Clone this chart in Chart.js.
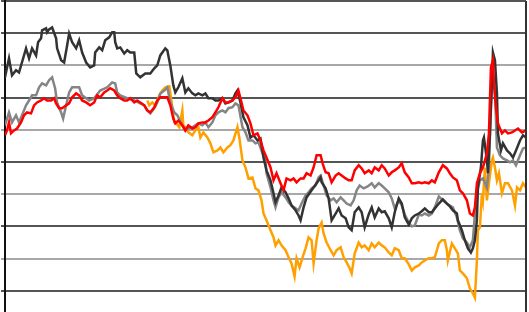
<!DOCTYPE html>
<html>
<head>
<meta charset="utf-8">
<script src="https://cdn.jsdelivr.net/npm/chart.js@4/dist/chart.umd.min.js"></script>
<style>
body{margin:0;background:#fff;overflow:hidden;}
#wrap{position:absolute;left:0;top:0;width:529px;height:324px;}
</style>
</head>
<body>
<div id="wrap"><canvas id="c"></canvas></div>
<script>
// y ticks (no labels shown in the picture)
const yMin=0,yMax=100,yStep=10;

const darkDay=[0,4,7,11,14,21,24,27,31,33,36,37,41,42,44,47,51,52,56,59,62,64,67,71,74,77,81,85,89,90,94,97,100,104,107,109,110,112,115,119,122,125,129,131,135,140,145,149,152,155,160,162,165,168,170,173,177,180,183,187,190,193,197,200,203,207,210,213,217,220,223,227,230,232,235,238,242,245,248,252,255,258,261,265,268,270,273,276,280,283,286,290,293,295,298,301,306,311,315,316,320,323,326,330,333,336,340,343,346,349,353,356,359,363,366,369,373,376,379,383,386,389,393,396,399,403,406,409,413,416,419,423,426,429,433,437,441,444,447,451,452,456,459,462,465,467,469,471,472,475,477,478,481,482,484,486,487,489,491,492,495,497,501,504,507,510,514,517,520];
const darkVal=[76.3,82.2,76.9,78.5,77.8,85.3,82.2,85.3,83.1,87.2,88.4,90.9,91.5,90.3,91.2,91.8,88.4,85.3,81.6,80.9,86.2,89.9,87.2,85.3,87.8,84.0,80.9,79.4,80.0,84.0,85.6,84.7,87.8,88.7,90.3,90.3,87.2,85.3,85.6,83.7,84.7,84.0,84.0,77.5,76.3,77.5,77.5,79.1,80.0,83.1,85.3,84.7,80.0,73.8,71.6,73.2,76.0,71.6,72.9,71.3,70.7,71.3,70.7,71.3,69.8,69.8,69.1,69.1,69.8,68.2,68.5,69.1,71.3,72.2,68.5,63.9,61.4,57.6,58.3,56.7,57.3,51.4,47.4,44.3,40.3,37.5,39.6,42.1,40.6,38.7,36.5,35.0,33.4,31.9,35.9,39.0,41.2,43.4,45.2,43.7,41.8,38.7,31.9,34.0,35.6,33.4,32.5,29.7,28.8,34.4,35.9,34.4,29.7,33.7,35.9,32.8,35.6,34.4,34.7,32.5,29.7,34.4,38.7,37.1,32.8,30.6,32.5,33.4,34.0,34.7,35.6,34.4,34.4,35.6,37.1,38.4,37.1,36.2,35.0,34.0,31.9,28.8,25.7,23.2,21.9,23.2,25.7,31.9,42.1,48.3,56.7,57.6,50.5,46.5,58.9,75.4,84.0,81.6,71.3,58.9,53.6,55.8,53.6,52.7,51.4,53.6,56.7,58.3,57.6];

const grayDay=[0,4,7,11,14,17,21,24,27,31,34,37,41,44,47,50,52,56,58,61,64,67,71,74,77,81,84,89,95,102,107,110,112,115,122,129,135,139,142,145,149,152,155,159,162,165,169,172,177,180,183,187,190,193,197,200,203,207,210,213,217,220,223,227,230,233,237,240,243,247,250,253,257,260,261,265,268,270,273,276,280,283,286,290,293,296,300,303,306,310,313,315,318,321,325,328,331,335,338,341,345,348,351,354,358,362,366,369,373,376,379,383,386,389,393,396,399,403,406,409,413,416,419,423,426,429,433,437,441,444,447,451,454,457,461,464,467,469,471,474,477,481,483,485,487,489,491,494,497,501,504,507,510,514,517,520];
const grayVal=[61.4,65.4,62.3,64.5,62.3,64.5,67.6,69.1,70.7,70.7,73.2,74.4,73.8,75.4,76.3,72.9,68.5,65.4,63.5,67.6,71.6,73.2,73.2,73.2,70.7,69.8,69.1,69.8,72.2,73.2,74.7,74.4,71.6,70.7,69.8,69.1,68.2,67.6,66.0,65.1,66.7,68.5,71.3,72.2,73.2,68.5,65.4,64.5,61.4,59.8,60.4,60.8,61.4,62.0,61.4,62.3,60.8,62.3,64.5,65.4,66.0,65.4,66.7,67.0,68.2,67.6,60.8,59.2,56.7,56.7,55.8,56.1,52.7,50.5,46.5,42.1,38.1,35.9,39.0,40.6,39.0,37.5,36.5,35.6,35.0,37.1,39.6,40.6,41.8,42.7,45.2,45.8,42.7,39.6,38.1,38.7,37.5,39.0,38.1,37.1,36.5,38.1,41.2,42.7,41.8,42.4,43.4,42.1,43.4,42.7,41.8,40.6,38.7,35.6,38.1,36.5,33.7,31.2,30.0,30.3,33.7,33.4,34.0,33.4,34.0,35.9,39.3,38.1,37.1,36.5,35.9,32.8,28.8,26.3,25.0,23.5,25.7,34.0,40.3,44.3,44.9,42.1,48.3,67.0,76.9,72.2,54.5,52.1,51.1,50.5,49.9,50.5,49.0,52.1,54.2,54.5];

const redDay=[0,2,4,6,9,12,16,19,22,26,29,32,36,39,42,46,49,51,54,57,61,64,67,71,74,77,81,85,89,92,95,99,102,105,109,112,115,119,122,125,129,132,135,139,142,145,149,152,155,159,162,165,168,170,173,177,180,183,187,190,193,197,200,203,207,210,213,217,220,223,227,230,233,235,238,242,245,248,252,255,258,261,265,268,271,275,278,281,285,288,291,295,298,301,305,308,311,315,317,320,323,326,330,333,336,340,343,346,349,353,356,359,363,366,369,373,376,379,383,386,389,393,396,399,403,406,409,413,416,419,423,426,429,433,437,441,444,447,451,454,457,461,464,467,469,471,474,477,481,483,485,487,488,490,492,496,499,502,506,509,512,516,520];
const redVal=[58.3,59.8,62.3,58.9,59.8,60.4,62.3,64.5,65.4,65.1,67.6,68.5,69.1,69.8,69.1,69.1,69.8,68.2,66.7,66.7,67.6,68.2,70.1,71.3,70.7,69.1,68.5,67.6,68.5,70.7,70.1,71.6,72.2,72.9,72.2,70.7,69.8,69.1,69.1,69.8,68.5,69.1,68.5,67.6,66.0,65.4,67.0,69.1,70.1,70.1,70.1,67.6,63.5,62.0,62.9,61.4,59.8,61.4,60.4,60.8,62.0,62.3,62.3,62.9,63.9,65.4,67.0,69.8,68.5,68.5,69.1,70.1,72.2,69.8,66.0,64.5,62.0,58.3,58.9,56.7,53.6,51.4,48.3,44.3,46.5,43.4,41.2,44.9,44.3,44.9,43.7,44.9,44.9,46.5,45.8,48.3,52.1,52.1,49.6,46.8,46.5,43.7,45.8,46.5,45.8,44.9,44.3,44.3,47.4,49.0,48.0,46.5,47.4,46.5,48.3,47.4,49.0,48.0,45.8,46.8,47.4,48.3,49.6,46.8,45.2,43.4,43.4,43.7,43.4,43.7,43.4,44.3,43.7,46.8,49.0,48.0,46.5,45.2,44.3,41.2,40.3,38.1,34.0,33.4,35.9,43.4,46.5,48.3,52.7,58.9,79.4,81.6,74.4,67.0,62.0,58.9,59.8,58.9,59.2,59.8,60.4,59.2,59.8];

const orangeDay=[142,144,147,150,154,157,160,164,166,169,171,174,177,178,180,183,187,190,193,195,198,202,205,208,212,215,218,222,225,228,232,234,237,240,243,247,250,253,256,258,261,265,268,270,273,276,280,283,286,289,291,294,297,300,303,306,308,311,313,316,318,321,325,328,331,335,338,341,344,346,349,353,356,359,363,366,369,373,376,379,383,386,389,393,396,399,403,406,409,413,416,419,423,426,429,433,436,439,441,442,446,449,452,454,457,461,464,467,469,471,472,474,476,477,479,481,483,486,487,489,491,493,496,499,502,506,509,511,514,517,520];
const orangeVal=[69.1,67.6,68.5,67.6,70.7,72.2,73.2,73.5,69.1,62.3,62.0,60.8,66.0,61.4,60.8,59.2,58.3,59.8,60.8,57.6,59.2,57.6,55.8,53.0,53.6,54.5,53.0,54.5,55.2,56.7,60.8,57.3,50.5,48.3,44.9,45.2,41.8,41.2,38.1,34.0,31.9,28.8,26.6,24.1,25.7,24.1,22.6,20.4,18.5,14.5,20.1,17.3,20.4,23.2,26.6,25.7,18.5,25.7,29.4,31.2,27.8,25.0,22.6,21.0,22.6,23.5,20.4,18.8,17.0,15.4,21.6,25.0,23.5,24.1,22.6,24.7,23.5,25.0,24.1,23.5,21.9,21.0,23.2,22.6,20.1,20.1,18.2,16.3,17.3,17.9,18.8,19.4,20.1,20.1,20.4,24.7,25.7,25.7,22.6,19.4,24.7,23.2,21.6,16.3,15.4,13.9,10.7,9.2,7.9,19.4,28.8,29.7,40.3,38.1,48.3,38.1,43.4,50.5,51.4,48.3,44.3,46.5,40.3,43.4,43.4,41.2,36.5,42.1,41.2,43.4,42.1];

function pts(days,vals){
return days.map((d,i)=>({x:d,y:vals[i]}));
}

function line(label,days,vals,color){
return {label:label,data:pts(days,vals),borderColor:color,borderWidth:2.5,pointRadius:0,tension:0,fill:false};
}

// right edge of the plot frame
const frame={
id:"frame",
afterDraw(chart){
const a=chart.chartArea,ctx=chart.ctx;
ctx.save();
ctx.strokeStyle="#333";
ctx.lineWidth=2;
ctx.beginPath();
ctx.moveTo(a.right,a.top);
ctx.lineTo(a.right,a.bottom);
ctx.stroke();
ctx.restore();
}
};

new Chart(document.getElementById("c"),{
type:"line",
data:{datasets:[
line("red",redDay,redVal,"#ff0000"),
line("dark",darkDay,darkVal,"#333333"),
line("gray",grayDay,grayVal,"#858585"),
line("orange",orangeDay,orangeVal,"#ffa000")
]},
options:{
responsive:true,
maintainAspectRatio:false,
animation:false,
layout:{padding:{left:1,right:3,top:1,bottom:1}},
plugins:{legend:{display:false},tooltip:{enabled:false}},
scales:{
x:{type:"linear",min:0,max:520,display:false},
y:{
min:yMin,max:yMax,
ticks:{stepSize:yStep,display:false},
border:{color:"#111",width:2},
grid:{
lineWidth:2,
tickLength:4,
color:(c)=>{const v=c.tick.value;return (v%20===0&&v!==100)?"#a8a8a8":"#555";}
}
}
}
},
plugins:[frame]
});
</script>
</body>
</html>
